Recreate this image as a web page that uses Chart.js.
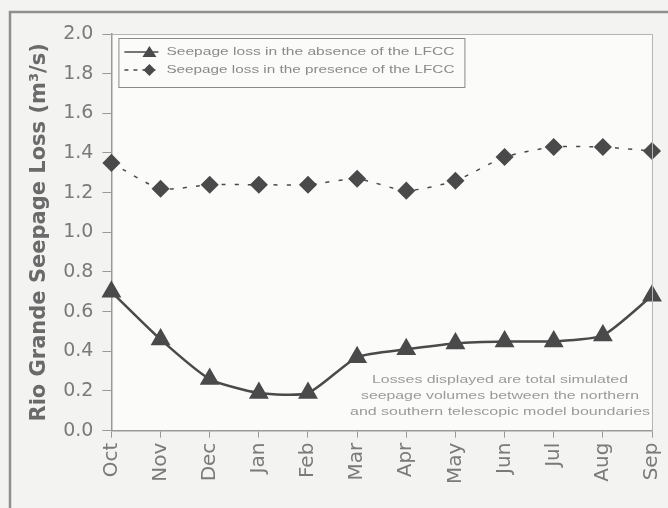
<!DOCTYPE html>
<html>
<head>
<meta charset="utf-8">
<script src="https://cdn.jsdelivr.net/npm/chart.js@4.4.1/dist/chart.umd.min.js"></script>
<style>
  html, body { margin: 0; padding: 0; background: #f3f3f1; }
  #wrap { width: 668px; height: 508px; }
</style>
</head>
<body>
<div id="wrap"><canvas id="seepageChart" width="668" height="508"></canvas></div>
<script>
const months = ["Oct", "Nov", "Dec", "Jan", "Feb", "Mar", "Apr", "May", "Jun", "Jul", "Aug", "Sep"];
const lossAbsent = [0.70, 0.46, 0.26, 0.19, 0.19, 0.37, 0.41, 0.44, 0.45, 0.45, 0.48, 0.68];
const lossPresent = [1.35, 1.22, 1.24, 1.24, 1.24, 1.27, 1.21, 1.26, 1.38, 1.43, 1.43, 1.41];
const seriesLabels = [
    "Seepage loss in the absence of the LFCC",
    "Seepage loss in the presence of the LFCC",
];
const noteLines = [
    "Losses displayed are total simulated",
    "seepage volumes between the northern",
    "and southern telescopic model boundaries",
];

const lineColor = "#4a4a4a";
const textColor = "#7a7a7a";
const wideFont = "'DejaVu Sans', Verdana, sans-serif";

// text in the reference is stretched sideways, so squeeze/stretch to a width
function wideText(c, text, x, y, width, align) {
    const w = c.measureText(text).width;
    const s = width / w;
    c.save();
    let x0 = x;
    if (align === "center") x0 = x - width / 2;
    c.translate(x0, y);
    c.scale(s, 1);
    c.textAlign = "left";
    c.fillText(text, 0, 0);
    c.restore();
}

// frame, plot box, legend box and note
const decorations = {
    id: "decorations",
    beforeDraw(chart) {
        const c = chart.ctx;
        c.save();
        c.fillStyle = "#f3f3f1";
        c.fillRect(0, 0, chart.width, chart.height);
        const a = chart.chartArea;
        c.fillStyle = "#fbfbfa";
        c.fillRect(a.left, a.top, a.right - a.left, a.bottom - a.top);
        c.strokeStyle = "#8f8f8f";
        c.lineWidth = 2.5;
        c.beginPath();
        c.moveTo(10, chart.height);
        c.lineTo(10, 12);
        c.lineTo(chart.width, 12);
        c.stroke();
        c.restore();
    },
    afterDatasetsDraw(chart) {
        const c = chart.ctx;
        const a = chart.chartArea;
        c.save();
        c.strokeStyle = "#b5b5b5";
        c.lineWidth = 1;
        c.beginPath();
        c.moveTo(a.left, a.top + 0.5);
        c.lineTo(a.right + 0.5, a.top + 0.5);
        c.lineTo(a.right + 0.5, a.bottom);
        c.stroke();

        // legend
        const lx = a.left + 7, ly = a.top + 4, lw = 346, lh = 49;
        c.fillStyle = "#fbfbfa";
        c.fillRect(lx, ly, lw, lh);
        c.strokeStyle = "#8a8a8a";
        c.lineWidth = 1;
        c.strokeRect(lx + 0.5, ly + 0.5, lw, lh);
        c.font = "11px 'Liberation Sans', Arial, sans-serif";
        c.textBaseline = "middle";
        chart.data.datasets.forEach((ds, i) => {
            const y = ly + 14 + i * 18;
            c.strokeStyle = lineColor;
            c.lineWidth = 1.5;
            c.setLineDash(ds.borderDash ? [4, 5] : []);
            c.beginPath();
            c.moveTo(lx + 6, y);
            c.lineTo(lx + 40, y);
            c.stroke();
            c.setLineDash([]);
            c.fillStyle = lineColor;
            c.beginPath();
            if (ds.pointStyle === "triangle") {
                c.moveTo(lx + 31, y - 6);
                c.lineTo(lx + 38, y + 5);
                c.lineTo(lx + 24, y + 5);
            } else {
                c.moveTo(lx + 31, y - 6);
                c.lineTo(lx + 37, y);
                c.lineTo(lx + 31, y + 6);
                c.lineTo(lx + 25, y);
            }
            c.closePath();
            c.fill();
            c.fillStyle = "#8a8a8a";
            wideText(c, ds.label, lx + 48, y, 288, "left");
        });

        // note
        c.fillStyle = "#9a9a9a";
        c.font = "11px 'Liberation Sans', Arial, sans-serif";
        c.textBaseline = "middle";
        const noteWidths = [256, 278, 300];
        noteLines.forEach((t, i) => {
            wideText(c, t, a.right - 152, a.bottom - 51 + i * 16, noteWidths[i], "center");
        });
        c.restore();
    },
};

new Chart(document.getElementById("seepageChart").getContext("2d"), {
    type: "line",
    data: {
        labels: months,
        datasets: [
            {
                label: seriesLabels[0],
                data: lossAbsent,
                borderColor: lineColor,
                backgroundColor: lineColor,
                borderWidth: 2.5,
                pointStyle: "triangle",
                pointRadius: 9,
                pointHoverRadius: 9,
                tension: 0.2,
            },
            {
                label: seriesLabels[1],
                data: lossPresent,
                borderColor: lineColor,
                backgroundColor: lineColor,
                borderWidth: 1.5,
                borderDash: [4, 9],
                pointStyle: "rectRot",
                pointRadius: 8,
                pointHoverRadius: 8,
                tension: 0.2,
            },
        ],
    },
    options: {
        responsive: false,
        animation: false,
        layout: {
            padding: { left: 27, top: 34, right: 16, bottom: 19 },
        },
        plugins: {
            legend: { display: false },
            tooltip: { enabled: false },
        },
        scales: {
            x: {
                offset: false,
                afterFit: (scale) => {
                    scale.paddingRight = 0;
                },
                grid: {
                    drawOnChartArea: false,
                    drawTicks: true,
                    tickLength: 7,
                    color: "#999",
                },
                border: { color: "#999", width: 1.5 },
                ticks: {
                    color: textColor,
                    maxRotation: 90,
                    minRotation: 90,
                    padding: 5,
                    font: { family: wideFont, size: 20 },
                },
            },
            y: {
                min: 0,
                max: 2,
                grid: {
                    drawOnChartArea: false,
                    drawTicks: true,
                    tickLength: 9,
                    color: "#999",
                },
                border: { color: "#999", width: 1.5 },
                ticks: {
                    stepSize: 0.2,
                    color: textColor,
                    padding: 9,
                    font: { family: wideFont, size: 19 },
                    callback: (v) => Number(v).toFixed(1),
                },
                title: {
                    display: true,
                    text: "Rio Grande Seepage Loss (m\u00b3/s)",
                    color: "#6a6a6a",
                    padding: { top: 0, bottom: 2 },
                    font: { family: wideFont, size: 21, weight: "bold" },
                },
            },
        },
    },
    plugins: [decorations],
});
</script>
</body>
</html>
